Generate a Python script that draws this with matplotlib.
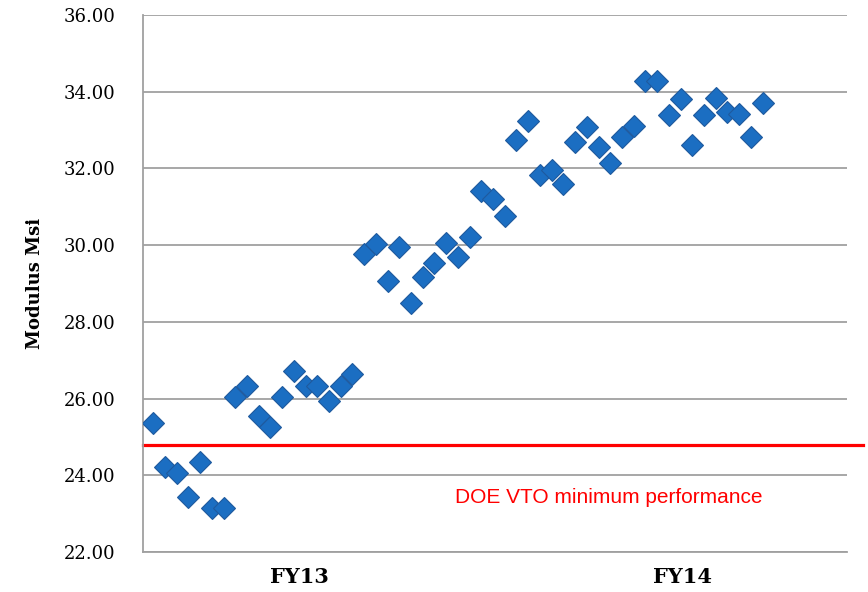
import numpy as np
import matplotlib.pyplot as plt

# modulus values, in sample order
modulus = [25.35, 24.22, 24.05, 23.44, 24.35, 23.14, 23.14, 26.05, 26.33, 25.55,
           25.25, 26.05, 26.72, 26.33, 26.33, 25.94, 26.33, 26.63, 29.78, 30.04,
           29.07, 29.96, 28.48, 29.18, 29.53, 30.06, 29.68, 30.20, 31.42, 31.20,
           30.76, 32.74, 33.24, 31.83, 31.96, 31.60, 32.70, 33.09, 32.55, 32.13,
           32.81, 33.11, 34.29, 34.29, 33.39, 33.81, 32.61, 33.39, 33.83, 33.46,
           33.41, 32.81, 33.71]
sample = np.arange(1, len(modulus) + 1)
min_perf = 24.8
yticks = [22, 24, 26, 28, 30, 32, 34, 36]
fy_labels = ['FY13', 'FY14']
fy_pos = [13.5, 46.2]

fig = plt.figure(figsize=(8.68, 5.92), dpi=100)
ax = fig.add_axes([0.1647, 0.0676, 0.811, 0.9071])

# red line runs a bit past the plot area on the right
ax.plot([0.12, 61.6], [min_perf, min_perf], color='#ff0000', lw=2.3, zorder=2, clip_on=False)
ax.plot(sample, modulus, 'D', ms=11, color='#1b6ec2', mec='#1f5a9e', mew=0.8, zorder=3)

ax.set_xlim(0.12, 60.2)
ax.set_ylim(22, 36)
ax.set_yticks(yticks)
ax.set_yticklabels(['%.2f' % v for v in yticks], family='DejaVu Serif', fontsize=13)
ax.set_xticks([])
ax.tick_params(axis='y', length=0, pad=20)
ax.grid(axis='y', color='#a0a0a0', lw=1.3)
ax.set_axisbelow(True)
for s in ['top', 'right']:
    ax.spines[s].set_visible(False)
for s in ['left', 'bottom']:
    ax.spines[s].set_color('#a0a0a0')
    ax.spines[s].set_linewidth(1.3)

for lab, xp in zip(fy_labels, fy_pos):
    ax.text(xp, 21.35, lab, ha='center', va='center', family='DejaVu Serif',
            fontsize=15, fontweight='bold')

ax.set_ylabel('Modulus Msi', family='DejaVu Serif', fontsize=13, fontweight='bold', labelpad=14)
ax.text(39.9, 23.43, 'DOE VTO minimum performance', color='#ff0000', ha='center',
        va='center', family='Liberation Sans', fontsize=15)

fig.savefig('out.png', dpi=100)
